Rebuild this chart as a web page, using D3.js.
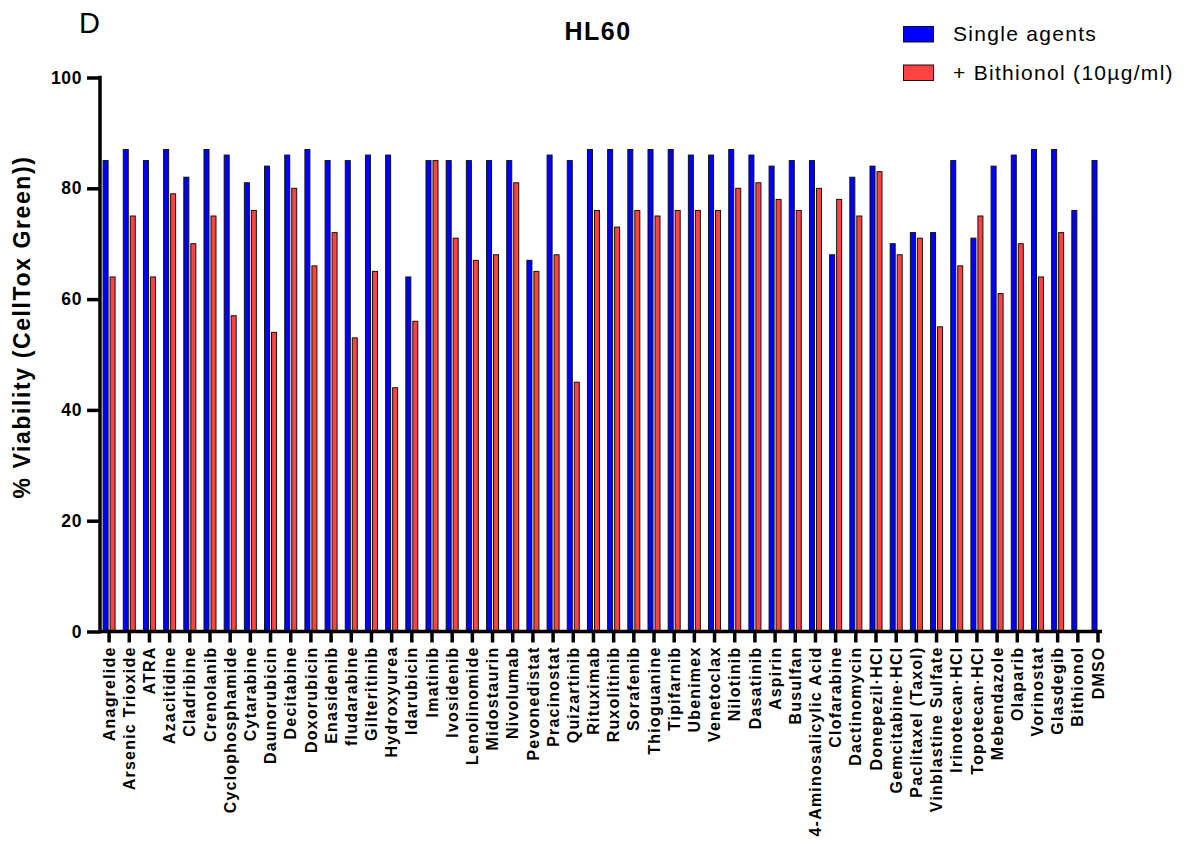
<!DOCTYPE html>
<html>
<head>
<meta charset="utf-8">
<script src="https://cdn.jsdelivr.net/npm/d3@7"></script>
<style>
  html, body { margin: 0; padding: 0; background: #ffffff; }
  svg { display: block; font-family: "Liberation Sans", Arial, sans-serif; }
</style>
</head>
<body>
<svg id="chart" width="1187" height="841"></svg>
<script>
// Drugs tested on HL60 cells
const categories = [
  "Anagrelide", "Arsenic Trioxide", "ATRA", "Azacitidine", "Cladribine",
  "Crenolanib", "Cyclophosphamide", "Cytarabine", "Daunorubicin", "Decitabine",
  "Doxorubicin", "Enasidenib", "fludarabine", "Gilteritinib", "Hydroxyurea",
  "Idarubicin", "Imatinib", "Ivosidenib", "Lenolinomide", "Midostaurin",
  "Nivolumab", "Pevonedistat", "Pracinostat", "Quizartinib", "Rituximab",
  "Ruxolitinib", "Sorafenib", "Thioguanine", "Tipifarnib", "Ubenimex",
  "Venetoclax", "Nilotinib", "Dasatinib", "Aspirin", "Busulfan",
  "4-Aminosalicylic Acid", "Clofarabine", "Dactinomycin", "Donepezil\u00b7HCl", "Gemcitabine\u00b7HCl",
  "Paclitaxel (Taxol)", "Vinblastine Sulfate", "Irinotecan\u00b7HCl", "Topotecan\u00b7HCl", "Mebendazole",
  "Olaparib", "Vorinostat", "Glasdegib", "Bithionol", "DMSO"
];

// % viability, single agent alone
const singleAgents = [
  85, 87, 85, 87, 82,
  87, 86, 81, 84, 86,
  87, 85, 85, 86, 86,
  64, 85, 85, 85, 85,
  85, 67, 86, 85, 87,
  87, 87, 87, 87, 86,
  86, 87, 86, 84, 85,
  85, 68, 82, 84, 70,
  72, 72, 85, 71, 84,
  86, 87, 87, 76, 85
];

// % viability, agent + Bithionol (10 µg/ml); none for Bithionol / DMSO
const withBithionol = [
  64, 75, 64, 79, 70,
  75, 57, 76, 54, 80,
  66, 72, 53, 65, 44,
  56, 85, 71, 67, 68,
  81, 65, 68, 45, 76,
  73, 76, 75, 76, 76,
  76, 80, 81, 78, 76,
  80, 78, 75, 83, 68,
  71, 55, 66, 75, 61,
  70, 64, 72, null, null
];

const yTicks = [0, 20, 40, 60, 80, 100];

const seriesNames = ["Single agents", "+ Bithionol (10\u00b5g/ml)"];
const seriesColors = ["#0000ff", "#ff4242"];

const svg = d3.select("#chart");

const x = d3.scaleBand().domain(categories).range([99, 1108.1]).padding(0);
const y = d3.scaleLinear().domain([0, 100]).range([631.5, 77.5]);
const cx = d => x(d) + x.bandwidth() / 2;

const barW = 5;

// bars
const rows = categories.map((c, i) => ({ c, a: singleAgents[i], b: withBithionol[i] }));

svg.append("g").selectAll("rect")
  .data(rows)
  .join("rect")
  .attr("x", d => cx(d.c) - 6)
  .attr("y", d => y(d.a))
  .attr("width", barW)
  .attr("height", d => y(0) - y(d.a))
  .attr("fill", seriesColors[0])
  .attr("stroke", "#111")
  .attr("stroke-width", 1);

svg.append("g").selectAll("rect")
  .data(rows.filter(d => d.b != null))
  .join("rect")
  .attr("x", d => cx(d.c) + 1)
  .attr("y", d => y(d.b))
  .attr("width", barW)
  .attr("height", d => y(0) - y(d.b))
  .attr("fill", seriesColors[1])
  .attr("stroke", "#111")
  .attr("stroke-width", 1);

// y axis
const yAxis = svg.append("g")
  .attr("transform", "translate(100,0)")
  .call(d3.axisLeft(y).tickValues(yTicks).tickSize(13).tickSizeOuter(0).tickPadding(5));
yAxis.select(".domain").attr("stroke-width", 3.5).attr("d", `M0,${y(100) - 1.75}V${y(0) + 1.75}`);
yAxis.selectAll(".tick line").attr("stroke-width", 3.5);
yAxis.selectAll(".tick text")
  .attr("font-size", 17.5).attr("font-weight", "bold").attr("fill", "#000")
  .attr("font-family", "Liberation Sans, Arial, sans-serif")
  .style("letter-spacing", "0.6px");

// x axis
const xAxis = svg.append("g")
  .attr("transform", `translate(0,${y(0)})`)
  .call(d3.axisBottom(x).tickSize(11).tickSizeOuter(0).tickPadding(4));
xAxis.select(".domain").attr("stroke-width", 3.5).attr("d", "M98.5,0H1102");
xAxis.selectAll(".tick line").attr("stroke-width", 3.5);
xAxis.selectAll(".tick text")
  .attr("font-size", 16).attr("font-weight", "bold").attr("fill", "#000")
  .attr("font-family", "Liberation Sans, Arial, sans-serif")
  .style("letter-spacing", "1.2px")
  .attr("text-anchor", "end")
  .attr("transform", "rotate(-90)")
  .attr("x", -15)
  .attr("y", 0)
  .attr("dy", "0.35em");

// y axis title
svg.append("text")
  .attr("transform", "translate(30,327) rotate(-90)")
  .attr("text-anchor", "middle")
  .attr("font-size", 23).attr("font-weight", "bold")
  .style("letter-spacing", "1.6px")
  .text("% Viability (CellTox Green))");

// chart title
svg.append("text")
  .attr("x", 598).attr("y", 40)
  .attr("text-anchor", "middle")
  .attr("font-size", 25).attr("font-weight", "bold")
  .style("letter-spacing", "1.5px")
  .text("HL60");

// panel letter
svg.append("text")
  .attr("x", 79).attr("y", 33)
  .attr("font-size", 29)
  .text("D");

// legend
const legend = svg.append("g");
seriesNames.forEach((name, i) => {
  const ly = [26.5, 65][i];
  legend.append("rect")
    .attr("x", 903.5).attr("y", ly)
    .attr("width", 30).attr("height", 15.5)
    .attr("fill", seriesColors[i]).attr("stroke", "#111").attr("stroke-width", 1);
  legend.append("text")
    .attr("x", 953).attr("y", ly + 14.5)
    .attr("font-size", 21)
    .style("letter-spacing", "1.3px")
    .text(name);
});
</script>
</body>
</html>
